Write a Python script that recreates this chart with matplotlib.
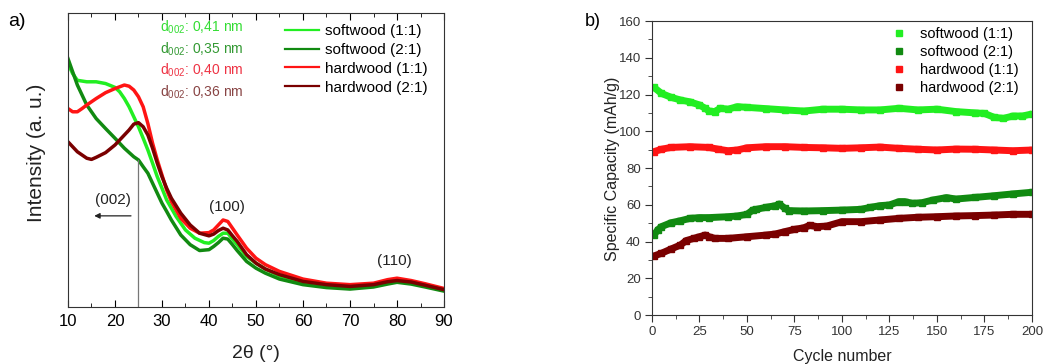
import matplotlib
matplotlib.use("Agg")
import matplotlib.pyplot as plt

plt.rcParams['font.family'] = ['Liberation Sans', 'DejaVu Sans']
plt.rcParams['mathtext.default'] = 'regular'

# ---- a) XRD patterns (intensity in arbitrary units) ----
tt_sw11 = [10, 11, 12, 14, 16, 18, 20, 21, 22, 23, 24, 25, 26, 27, 28, 29, 30, 31, 32, 33,
           35, 37, 39, 40, 41, 42, 43, 44, 45, 46, 48, 50, 52, 55, 60, 65, 70, 75, 78, 80, 83, 86, 90]
int_sw11 = [82.8, 79.4, 77.1, 76.6, 76.6, 76.0, 74.7, 73.2, 70.9, 68.1, 64.7, 61.3, 57.4, 53.4,
            48.9, 44.3, 40.4, 36.4, 33.6, 30.8, 26.2, 23.4, 21.9, 21.7, 22.6, 24.0, 25.1, 25.1,
            23.1, 21.2, 17.2, 14.9, 12.9, 10.6, 8.4, 7.2, 6.8, 7.4, 8.4, 8.9, 8.4, 7.2, 5.9]

tt_sw21 = [10, 11, 12, 13, 14, 16, 18, 20, 22, 24, 25, 26, 27, 28, 29, 30, 31, 32, 34, 36,
           38, 40, 41, 42, 43, 44, 45, 46, 48, 50, 52, 55, 60, 65, 70, 75, 78, 80, 83, 86, 90]
int_sw21 = [84.5, 80.0, 75.5, 72.1, 68.7, 64.1, 60.7, 57.4, 54.0, 51.1, 50.0, 47.7, 45.5, 42.1,
            38.7, 35.3, 32.5, 29.6, 24.5, 21.2, 19.2, 19.5, 20.6, 21.9, 23.4, 23.1, 21.2, 19.2,
            15.5, 13.2, 11.5, 9.5, 7.6, 6.6, 6.1, 6.8, 7.8, 8.4, 7.8, 6.8, 5.4]

tt_hw11 = [10, 11, 12, 13, 14, 16, 18, 20, 22, 23, 24, 25, 26, 27, 28, 29, 30, 31, 32, 34,
           36, 38, 40, 41, 42, 43, 44, 45, 46, 48, 50, 52, 55, 60, 65, 70, 75, 78, 80, 83, 86, 90]
int_hw11 = [67.5, 66.4, 66.4, 67.5, 68.7, 70.9, 72.9, 74.3, 75.5, 75.1, 73.8, 71.5, 68.1, 62.4,
            55.7, 50.0, 44.9, 39.8, 35.9, 30.2, 26.8, 25.1, 25.3, 26.2, 27.9, 29.6, 29.1, 26.8,
            24.5, 20.0, 16.6, 14.4, 12.1, 9.5, 8.1, 7.6, 8.1, 9.3, 9.8, 9.0, 7.9, 6.3]

tt_hw21 = [10, 11, 12, 13, 14, 15, 16, 18, 20, 22, 23, 24, 25, 26, 27, 28, 29, 30, 31, 32,
           34, 36, 38, 40, 41, 42, 43, 44, 45, 46, 48, 50, 52, 55, 60, 65, 70, 75, 78, 80, 83, 86, 90]
int_hw21 = [56.2, 54.5, 52.8, 51.7, 50.6, 50.2, 50.9, 52.5, 55.1, 58.5, 60.2, 62.2, 62.7, 61.3,
            58.5, 54.0, 48.9, 44.3, 40.4, 37.0, 31.9, 27.9, 25.1, 24.2, 24.8, 26.0, 26.8, 26.2,
            24.2, 22.3, 17.8, 14.9, 12.9, 11.0, 8.7, 7.6, 7.0, 7.6, 8.6, 9.0, 8.5, 7.4, 5.9]

labels = ['softwood (1:1)', 'softwood (2:1)', 'hardwood (1:1)', 'hardwood (2:1)']
d002_text = ['0,41', '0,35', '0,40', '0,36']
peaks = ['(002)', '(100)', '(110)']

# ---- b) cycling ----
cyc_sw11 = [1, 5, 10, 15, 20, 25, 28, 30, 33, 36, 40, 45, 50, 60, 70, 80, 90, 100, 110, 120,
            130, 140, 150, 160, 170, 175, 180, 185, 190, 195, 200]
cap_sw11 = [123.9, 120.6, 118.5, 117.0, 116.0, 114.3, 112.5, 111.0, 110.7, 112.5, 112.0, 113.4,
            113.0, 112.3, 111.6, 111.0, 112.0, 112.0, 111.6, 111.6, 112.5, 111.6, 112.0, 110.7,
            110.0, 109.7, 107.6, 107.0, 108.3, 108.3, 109.4]

cyc_hw11 = [1, 5, 10, 20, 30, 35, 40, 45, 50, 60, 70, 80, 90, 100, 110, 120, 130, 140, 150,
            160, 170, 180, 190, 200]
cap_hw11 = [88.9, 90.2, 91.2, 91.6, 91.2, 90.2, 89.4, 89.8, 91.0, 91.6, 91.6, 91.2, 91.0, 90.7,
            91.0, 91.4, 90.7, 90.2, 89.8, 90.3, 90.2, 89.8, 89.4, 89.8]

cyc_sw21 = [1, 3, 5, 10, 15, 20, 25, 30, 40, 45, 50, 53, 55, 60, 65, 67, 70, 72, 80, 90, 100,
            110, 115, 120, 125, 130, 133, 137, 142, 148, 155, 160, 170, 180, 190, 200]
cap_sw21 = [43.5, 46.3, 48.1, 50.2, 51.3, 52.6, 53.0, 53.0, 53.5, 53.9, 54.8, 57.1, 57.5, 58.6,
            59.5, 60.4, 58.0, 56.8, 56.6, 56.8, 57.1, 57.5, 58.6, 59.5, 59.9, 61.7, 61.7, 60.8,
            61.1, 62.6, 63.9, 63.1, 64.0, 64.9, 65.9, 66.8]

cyc_hw21 = [1, 5, 10, 15, 18, 22, 25, 28, 30, 33, 40, 50, 60, 65, 70, 75, 80, 83, 87, 92, 100,
            110, 120, 130, 140, 150, 160, 170, 180, 190, 200]
cap_hw21 = [32.1, 33.6, 35.9, 38.1, 40.5, 41.7, 42.6, 43.5, 42.6, 41.7, 41.7, 42.6, 43.5, 44.1,
            45.4, 46.6, 47.5, 48.8, 48.1, 48.4, 50.8, 50.8, 51.7, 52.6, 53.2, 53.5, 53.9, 54.1,
            54.4, 54.8, 54.8]

line_colors = ['#22ee22', '#118a11', '#ff1414', '#7a0000']
text_colors = ['#33dd33', '#339933', '#ee3344', '#884444']

fig = plt.figure(figsize=(10.44, 3.64), dpi=100)

# ================= panel a =================
ax1 = fig.add_axes([0.0651, 0.1566, 0.3602, 0.8077])
xrd = [(tt_sw11, int_sw11), (tt_sw21, int_sw21), (tt_hw11, int_hw11), (tt_hw21, int_hw21)]
for (xx, yy), c, lab in zip(xrd, line_colors, labels):
    ax1.plot(xx, yy, color=c, lw=2.5, label=lab)

ax1.set_xlim(10, 90)
ax1.set_ylim(0, 100)
ax1.set_xticks(range(10, 91, 10))
ax1.set_xticks(range(15, 90, 10), minor=True)
ax1.set_yticks([])
ax1.tick_params(axis='x', which='both', direction='in', top=True, labelsize=12, pad=5)
ax1.tick_params(axis='x', which='major', length=5)
ax1.tick_params(axis='x', which='minor', length=3)
for s in ax1.spines.values():
    s.set_color('#333333')

# d002 spacing vertical line and arrow
ax1.plot([25, 25], [0, 50], color='#777777', lw=0.9)
ax1.annotate('', xy=(15, 31), xytext=(24, 31),
             arrowprops=dict(arrowstyle='-|>', color='#222222', lw=0.9, mutation_scale=8))
ax1.text(19.5, 36.4, peaks[0], ha='center', va='center', fontsize=11, color='#222222')
ax1.text(43.8, 33.9, peaks[1], ha='center', va='center', fontsize=11, color='#222222')
ax1.text(79.4, 15.5, peaks[2], ha='center', va='center', fontsize=11, color='#222222')

for i, (d, c) in enumerate(zip(d002_text, text_colors)):
    ax1.text(29.5, 95.0 - i * 7.3, 'd$_{002}$: ' + d + ' nm', color=c, fontsize=10,
             ha='left', va='center')

leg1 = ax1.legend(loc='upper left', bbox_to_anchor=(285 / 1044, 1 - 24 / 364),
                  bbox_transform=fig.transFigure, frameon=False, fontsize=11,
                  handlelength=2.2, handletextpad=0.4, labelspacing=0.32,
                  borderpad=0, borderaxespad=0)
for ln in leg1.get_lines():
    ln.set_linewidth(1.6)

fig.text(36 / 1044, 1 - 153 / 364, 'Intensity (a. u.)', rotation=90, ha='center',
         va='center', fontsize=15, color='#222222')
fig.text(256 / 1044, 1 - 354 / 364, '2θ (°)', ha='center', va='center', fontsize=14,
         color='#222222')
fig.text(17 / 1044, 1 - 21 / 364, 'a)', ha='center', va='center', fontsize=14)

# ================= panel b =================
ax2 = fig.add_axes([0.6245, 0.1346, 0.364, 0.8077])
cyc = [(cyc_sw11, cap_sw11), (cyc_sw21, cap_sw21), (cyc_hw11, cap_hw11), (cyc_hw21, cap_hw21)]
for (xx, yy), c, lab in zip(cyc, line_colors, labels):
    ax2.plot(xx, yy, color=c, lw=5, solid_capstyle='butt')
    ax2.plot(xx, yy, 's', ms=5, color=c, label=lab)

ax2.set_xlim(0, 200)
ax2.set_ylim(0, 160)
ax2.set_xticks(range(0, 201, 25))
ax2.set_xticks([12.5 + 25 * k for k in range(8)], minor=True)
ax2.set_yticks(range(0, 161, 20))
ax2.set_yticks(range(10, 160, 20), minor=True)
ax2.tick_params(which='both', direction='out', labelsize=9.5, pad=3, colors='#333333')
ax2.tick_params(which='major', length=5)
ax2.tick_params(which='minor', length=3)
for s in ax2.spines.values():
    s.set_color('#333333')

ax2.legend(loc='upper left', bbox_to_anchor=(892 / 1044, 1 - 27 / 364),
           bbox_transform=fig.transFigure, frameon=False, fontsize=10.5, numpoints=1,
           handlelength=1.0, handletextpad=0.95, labelspacing=0.28,
           borderpad=0, borderaxespad=0)

fig.text(613 / 1044, 1 - 169 / 364, 'Specific Capacity (mAh/g)', rotation=90, ha='center',
         va='center', fontsize=11.5, color='#222222')
fig.text(842 / 1044, 1 - 356 / 364, 'Cycle number', ha='center', va='center', fontsize=11.5,
         color='#222222')
fig.text(593 / 1044, 1 - 21 / 364, 'b)', ha='center', va='center', fontsize=13)

fig.savefig('out.png', dpi=100)
